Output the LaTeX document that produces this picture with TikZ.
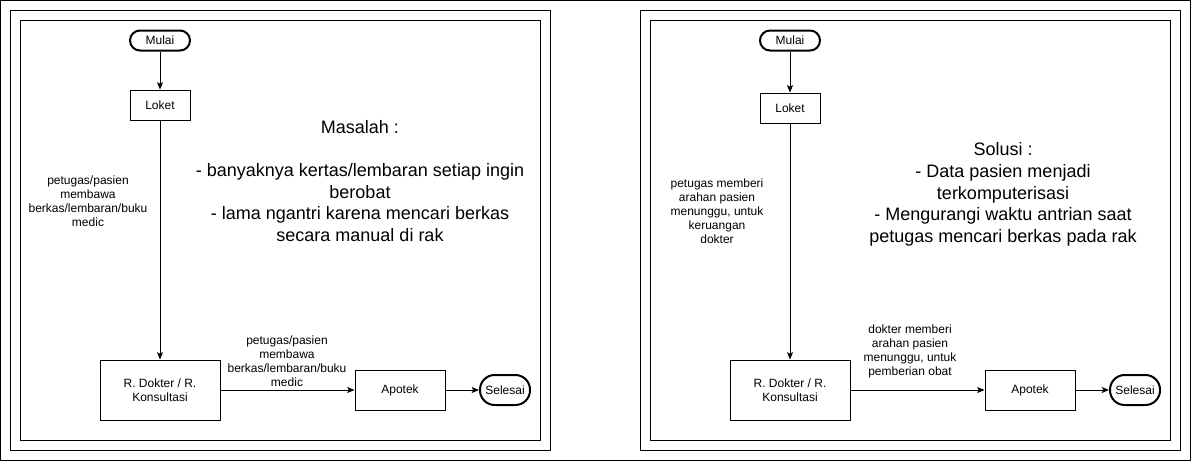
\documentclass[tikz,border=0pt]{standalone}
\usepackage{fontspec}
\setmainfont{Liberation Sans}
\usetikzlibrary{arrows.meta}
\tikzset{
  frame/.style={draw, line width=0.75pt},
  box/.style={draw, line width=0.75pt, rectangle, inner sep=0pt, align=center, font=\fontsize{9}{10.5}\selectfont},
  term/.style={draw, line width=1.5pt, rectangle, rounded corners=7.5pt, inner sep=0pt, minimum width=45pt, minimum height=15pt, font=\fontsize{9}{10.5}\selectfont},
  endterm/.style={draw, line width=1.5pt, rectangle, rounded corners=11pt, inner sep=0pt, minimum width=37.5pt, minimum height=22.5pt, font=\fontsize{9}{10.5}\selectfont},
  lbl/.style={align=center, inner sep=0pt, font=\fontsize{9}{10.5}\selectfont},
  big/.style={align=center, inner sep=0pt, font=\fontsize{13.5}{16.2}\selectfont},
  conn/.style={line width=0.75pt, -{Stealth[length=5.5pt, width=4.5pt, inset=1.2pt]}}
}
\begin{document}
\begin{tikzpicture}[x=0.75pt, y=-0.75pt]
\useasboundingbox (0,0) rectangle (1191,461);
\draw[frame] (0.5,0.5) rectangle (1190.5,460.5);
% left panel
\draw[frame] (10,10) rectangle (550,450);
\draw[frame] (20,20) rectangle (540,440);
% right panel
\draw[frame] (640,10) rectangle (1180,450);
\draw[frame] (650,20) rectangle (1170,440);

% left flow
\node[term] (m1) at (160,40.5) {Mulai};
\node[box, minimum width=45pt, minimum height=22.5pt] (l1) at (160,105) {Loket};
\node[box, minimum width=90pt, minimum height=45pt] (r1) at (160,390) {R. Dokter / R.\\Konsultasi};
\node[box, minimum width=67.5pt, minimum height=30pt] (a1) at (400,390) {Apotek};
\node[endterm] (s1) at (505,390) {Selesai};
\draw[conn] (m1) -- (l1);
\draw[conn] (l1) -- (r1);
\draw[conn] (r1) -- (a1);
\draw[conn] (a1) -- (s1);
\node[lbl] (t1) at (88,201) {petugas/pasien\\membawa\\berkas/lembaran/buku\\medic};
\node[lbl] (t2) at (287,361) {petugas/pasien\\membawa\\berkas/lembaran/buku\\medic};
\node[big] (mas) at (360,181) {Masalah :\\\strut\\- banyaknya kertas/lembaran setiap ingin\\berobat\\- lama ngantri karena mencari berkas\\secara manual di rak};

% right flow
\node[term] (m2) at (790,40.5) {Mulai};
\node[box, minimum width=45pt, minimum height=22.5pt] (l2) at (790,108) {Loket};
\node[box, minimum width=90pt, minimum height=45pt] (r2) at (790,390) {R. Dokter / R.\\Konsultasi};
\node[box, minimum width=67.5pt, minimum height=30pt] (a2) at (1030,390) {Apotek};
\node[endterm] (s2) at (1135,390) {Selesai};
\draw[conn] (m2) -- (l2);
\draw[conn] (l2) -- (r2);
\draw[conn] (r2) -- (a2);
\draw[conn] (a2) -- (s2);
\node[lbl] (t3) at (717,211) {petugas memberi\\arahan pasien\\menunggu, untuk\\keruangan\\dokter};
\node[lbl] (t4) at (910,351) {dokter memberi\\arahan pasien\\menunggu, untuk\\pemberian obat};
\node[big] (sol) at (1003,194.5) {Solusi :\\- Data pasien menjadi\\terkomputerisasi\\- Mengurangi waktu antrian saat\\petugas mencari berkas pada rak};
\end{tikzpicture}
\end{document}
